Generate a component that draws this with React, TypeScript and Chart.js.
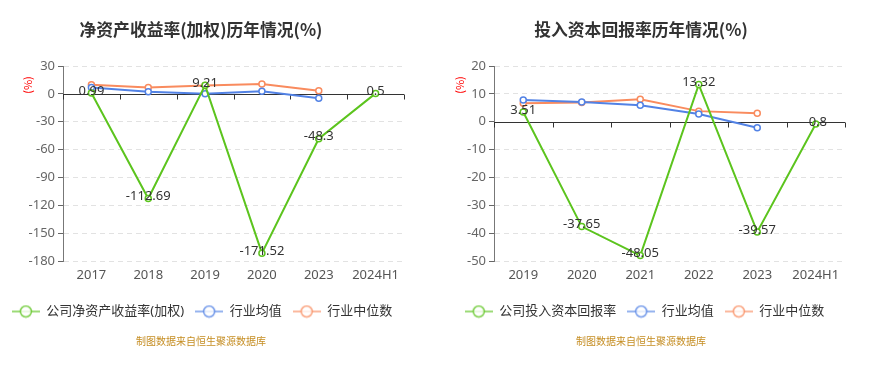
import React, { useEffect, useRef } from 'react';
import { Chart, registerables } from 'chart.js';

Chart.register(...registerables);

// ---- data ----
const roeCategories = ['2017', '2018', '2019', '2020', '2023', '2024H1'];
const roeCompany = [0.99, -112.69, 9.21, -171.52, -48.3, 0.5];
const roeMean = [6.9, 2.2, 0.2, 2.9, -4.7, null];
const roeMedian = [9.8, 6.8, 9.0, 10.5, 3.3, null];
const roeTicks = { min: -180, max: 30, step: 30 };

const roicCategories = ['2019', '2020', '2021', '2022', '2023', '2024H1'];
const roicCompany = [3.51, -37.65, -48.05, 13.32, -39.57, -0.8];
const roicMean = [7.8, 7.1, 5.9, 2.8, -2.2, null];
const roicMedian = [6.6, 6.9, 8.1, 3.8, 3.0, null];
const roicTicks = { min: -50, max: 20, step: 10 };

const roeSeriesNames = ['公司净资产收益率(加权)', '行业均值', '行业中位数'];
const roicSeriesNames = ['公司投入资本回报率', '行业均值', '行业中位数'];
const roeTitle = '净资产收益率(加权)历年情况(%)';
const roicTitle = '投入资本回报率历年情况(%)';
const unitLabel = '(%)';
const sourceNote = '制图数据来自恒生聚源数据库';

// ---- style ----
const FONT = "'Noto Sans', 'Noto Sans CJK SC', sans-serif";
const CJK = "'Noto Sans CJK SC', 'Noto Sans', sans-serif";
const GREEN = '#5cc41e';
const BLUE = '#5282e5';
const ORANGE = '#f98b5e';

function legendIcon(color: string): HTMLCanvasElement {
  const c = document.createElement('canvas');
  c.width = 28;
  c.height = 14;
  const g = c.getContext('2d')!;
  g.globalAlpha = 0.8;
  g.strokeStyle = color;
  g.lineWidth = 1.5;
  g.beginPath();
  g.moveTo(0, 7);
  g.lineTo(28, 7);
  g.stroke();
  g.beginPath();
  g.arc(14, 7, 5.5, 0, Math.PI * 2);
  g.fillStyle = '#fff';
  g.fill();
  g.stroke();
  return c;
}

const textPlugin = {
  id: 'texts',
  beforeDatasetsDraw(chart: any) {
    const { ctx, chartArea } = chart;
    const x = chart.scales.x;
    const y = chart.scales.y;
    const y0 = Math.round(y.getPixelForValue(0)) + 0.5;
    ctx.save();
    ctx.strokeStyle = '#333';
    ctx.lineWidth = 1;
    ctx.beginPath();
    ctx.moveTo(chartArea.left, y0);
    ctx.lineTo(chartArea.right, y0);
    const n = chart.data.labels.length;
    const band = (chartArea.right - chartArea.left) / n;
    for (let i = 0; i <= n; i++) {
      const px = Math.round(x.getPixelForValue(0) - band / 2 + i * band) + 0.5;
      ctx.moveTo(px, y0);
      ctx.lineTo(px, y0 + 5);
    }
    ctx.stroke();
    ctx.restore();
  },
  afterDatasetsDraw(chart: any) {
    const { ctx } = chart;
    const meta = chart.getDatasetMeta(0);
    const values = chart.data.datasets[0].data;
    ctx.save();
    ctx.font = `13px ${FONT}`;
    ctx.fillStyle = '#333';
    ctx.textAlign = 'center';
    ctx.textBaseline = 'middle';
    meta.data.forEach((pt: any, i: number) => {
      if (values[i] == null) return;
      ctx.fillText(String(values[i]), pt.x, pt.y - 2);
    });
    ctx.restore();
  },
  afterDraw(chart: any, _a: any, opts: any) {
    const { ctx } = chart;
    ctx.save();
    ctx.textAlign = 'center';
    ctx.textBaseline = 'middle';
    ctx.font = `bold 16.8px ${CJK}`;
    ctx.fillStyle = '#333';
    ctx.fillText(opts.title, opts.titleX, 30);
    ctx.font = `10px ${CJK}`;
    ctx.fillStyle = '#c58d22';
    ctx.fillText(opts.note, opts.titleX, 341);
    ctx.translate(opts.unitX, opts.unitY);
    ctx.rotate(-Math.PI / 2);
    ctx.font = `11px ${CJK}`;
    ctx.fillStyle = '#ff0000';
    ctx.fillText(opts.unit, 0, 0);
    ctx.restore();
  },
};

type Spec = {
  labels: string[];
  company: (number | null)[];
  mean: (number | null)[];
  median: (number | null)[];
  names: string[];
  ticks: { min: number; max: number; step: number };
  title: string;
  titleX: number;
  padRight: number;
  yWidth: number;
  unitX: number;
};

function makeConfig(s: Spec): any {
  const icons = [legendIcon(GREEN), legendIcon(BLUE), legendIcon(ORANGE)];
  const ds = (label: string, data: any[], color: string) => ({
    label,
    data,
    borderColor: color,
    backgroundColor: '#fff',
    pointBackgroundColor: '#fff',
    pointBorderColor: color,
    pointBorderWidth: 1.5,
    pointRadius: 3,
    borderWidth: 2,
    tension: 0,
  });
  return {
    type: 'line',
    data: {
      labels: s.labels,
      datasets: [
        ds(s.names[0], s.company, GREEN),
        ds(s.names[1], s.mean, BLUE),
        ds(s.names[2], s.median, ORANGE),
      ],
    },
    plugins: [textPlugin],
    options: {
      responsive: false,
      animation: false,
      layout: { padding: { top: 66, right: s.padRight, left: 0, bottom: 39 } },
      scales: {
        x: {
          type: 'category',
          offset: true,
          grid: { display: false, drawTicks: false },
          border: { display: false },
          ticks: { color: '#555', font: { size: 13, family: FONT }, padding: 6 },
          afterFit: (sc: any) => {
            sc.height = 33;
          },
        },
        y: {
          min: s.ticks.min,
          max: s.ticks.max,
          ticks: {
            stepSize: s.ticks.step,
            color: '#666',
            font: { size: 13, family: FONT },
            padding: 3,
          },
          grid: {
            color: (c: any) => (c.tick && c.tick.value === 0 ? 'rgba(0,0,0,0)' : '#e2e2e2'),
            tickColor: '#666',
            tickLength: 5,
          },
          border: { display: true, color: '#777', width: 1, dash: [5, 4] },
          afterFit: (sc: any) => {
            sc.width = s.yWidth;
          },
        },
      },
      plugins: {
        title: { display: false },
        tooltip: { enabled: false },
        legend: {
          position: 'bottom',
          labels: {
            usePointStyle: true,
            pointStyleWidth: 28,
            padding: 11,
            color: '#333',
            font: { size: 13, family: FONT },
            generateLabels: (chart: any) => {
              const items = Chart.defaults.plugins.legend.labels.generateLabels(chart);
              items.forEach((it: any, i: number) => {
                it.pointStyle = icons[i];
              });
              return items;
            },
          },
        },
        texts: {
          title: s.title,
          titleX: s.titleX,
          note: sourceNote,
          unit: unitLabel,
          unitX: s.unitX,
          unitY: 85,
        },
      },
    },
  };
}

function LineChart({ spec, width }: { spec: Spec; width: number }) {
  const ref = useRef<HTMLCanvasElement | null>(null);
  useEffect(() => {
    if (!ref.current) return;
    const chart = new Chart(ref.current, makeConfig(spec));
    return () => chart.destroy();
  }, []);
  return <canvas ref={ref} width={width} height={367} style={{ width, height: 367, display: 'block' }} />;
}

const leftSpec: Spec = {
  labels: roeCategories,
  company: roeCompany,
  mean: roeMean,
  median: roeMedian,
  names: roeSeriesNames,
  ticks: roeTicks,
  title: roeTitle,
  titleX: 201,
  padRight: 40,
  yWidth: 63,
  unitX: 28,
};

const rightSpec: Spec = {
  labels: roicCategories,
  company: roicCompany,
  mean: roicMean,
  median: roicMedian,
  names: roicSeriesNames,
  ticks: roicTicks,
  title: roicTitle,
  titleX: 197,
  padRight: 44,
  yWidth: 50,
  unitX: 16,
};

export default function App() {
  return (
    <div
      style={{
        position: 'fixed',
        left: 0,
        top: 0,
        width: 889,
        height: 367,
        display: 'flex',
        background: '#fff',
      }}
    >
      <LineChart spec={leftSpec} width={444} />
      <LineChart spec={rightSpec} width={445} />
    </div>
  );
}
